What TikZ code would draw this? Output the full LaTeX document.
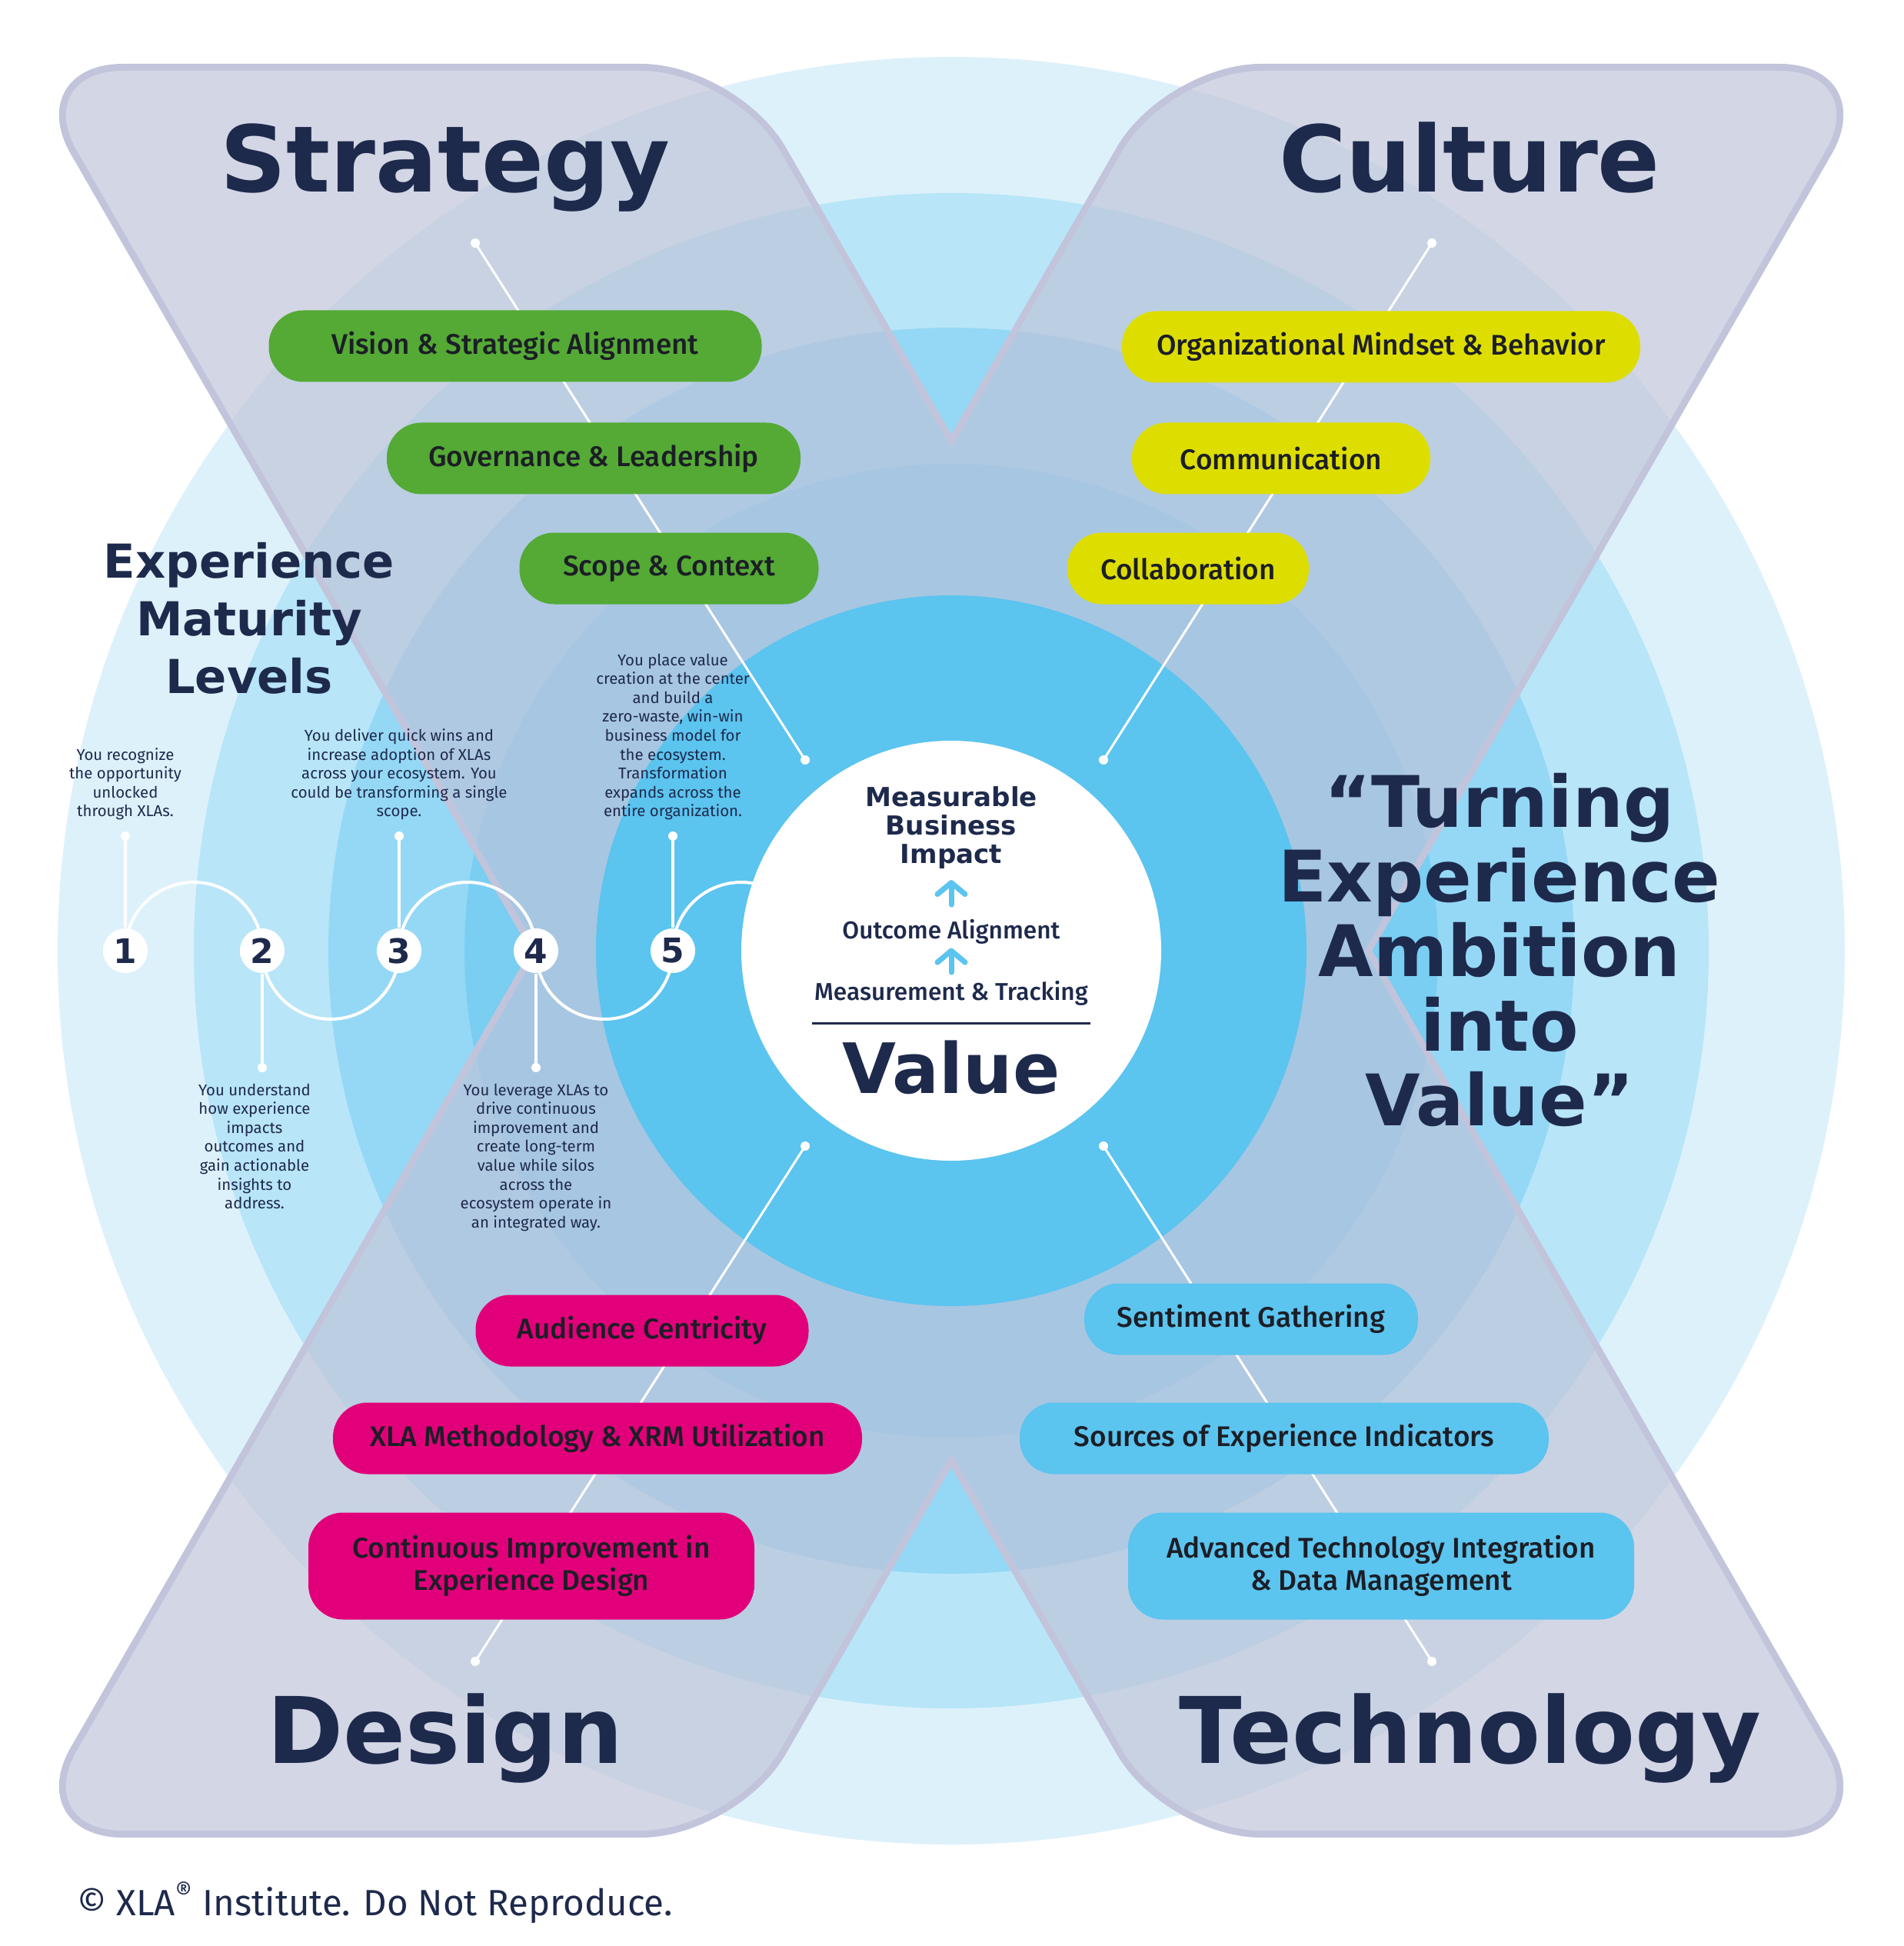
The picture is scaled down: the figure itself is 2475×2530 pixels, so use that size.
\documentclass[tikz,border=0pt]{standalone}
\usepackage{fontspec}
\setmainfont{Fira Sans}
\newfontfamily\heavyfont{DejaVu Sans}[UprightFont={* Bold}]
\IfFontExistsTF{Fira Sans Medium}
  {\newfontfamily\pillfont{Fira Sans Medium}}
  {\newfontfamily\pillfont{Fira Sans}}
\usetikzlibrary{positioning,arrows.meta}

\definecolor{navy}{RGB}{30,42,76}
\definecolor{ink}{RGB}{28,30,38}
\definecolor{ringA}{RGB}{221,241,251}
\definecolor{ringB}{RGB}{184,229,248}
\definecolor{ringC}{RGB}{149,216,245}
\definecolor{ringD}{RGB}{121,206,242}
\definecolor{ringE}{RGB}{91,196,239}
\definecolor{armbase}{RGB}{190,194,216}
\definecolor{armborder}{RGB}{193,196,219}
\definecolor{pillgreen}{RGB}{84,170,53}
\definecolor{pillyellow}{RGB}{221,222,0}
\definecolor{pillpink}{RGB}{226,0,122}
\colorlet{tintW}{armbase!67!white}
\colorlet{tintA}{armbase!67!ringA}
\colorlet{tintB}{armbase!67!ringB}
\colorlet{tintC}{armbase!67!ringC}
\colorlet{tintD}{armbase!67!ringD}

% les quatre bras du X
\newcommand{\armTL}{(40,92) -- (954,92) -- (1766,1500) -- (852,1500) -- cycle}
\newcommand{\armTR}{(1520,92) -- (2434,92) -- (1622,1500) -- (708,1500) -- cycle}
\newcommand{\armBL}{(852,972) -- (1766,972) -- (954,2380) -- (40,2380) -- cycle}
\newcommand{\armBR}{(708,972) -- (1622,972) -- (2434,2380) -- (1520,2380) -- cycle}

\tikzset{
  pill/.style={rounded corners=4.5mm, minimum height=9.3mm, inner xsep=0pt, inner ysep=0pt,
    align=center, text=ink, font=\pillfont\fontsize{10.5}{12}\selectfont},
  armtitle/.style={anchor=base, inner sep=0pt, text=navy, font=\heavyfont\fontsize{34}{34}\selectfont},
  link/.style={white, line width=0.3mm},
  stem/.style={white, line width=0.4mm},
  lvlnode/.style={circle, fill=white, inner sep=0pt, minimum size=5.8mm, text=navy,
    font=\heavyfont\fontsize{12.5}{12.5}\selectfont},
  desc/.style={align=center, inner sep=0pt, text=navy, font=\fontsize{5.8}{7}\selectfont},
  uparrow/.style={ringE, line width=0.7mm, line cap=round,
    -{Straight Barb[round, length=1.5mm, width=3.6mm]}}
}

\begin{document}
\begin{tikzpicture}[x=0.1mm, y=-0.1mm]
    \useasboundingbox (0,0) rectangle (2475,2530);
    \fill[white] (0,0) rectangle (2475,2530);
    \coordinate (c) at (1237,1236);

    % Anneaux de fond
    \fill[ringA] (c) circle (1162);
    \fill[ringB] (c) circle (985);
    \fill[ringC] (c) circle (810);
    \fill[ringD] (c) circle (633);

    % Le X : bordure puis teinte des bras
    \draw[armborder, line width=1.8mm, rounded corners=12mm] \armTL \armTR \armBL \armBR;
    \begin{scope}
        \clip[rounded corners=12mm] \armTL \armTR \armBL \armBR;
        \fill[tintW] (0,0) rectangle (2475,2530);
        \fill[tintA] (c) circle (1162);
        \fill[tintB] (c) circle (985);
        \fill[tintC] (c) circle (810);
        \fill[tintD] (c) circle (633);
    \end{scope}

    % Coeur bleu et disque blanc
    \fill[ringE] (c) circle (462);
    \fill[white] (c) circle (273);

    % Lignes qui traversent chaque bras
    \coordinate (s1) at (618,316);   \coordinate (s2) at (1047,988);
    \coordinate (k1) at (1862,316);  \coordinate (k2) at (1435,988);
    \coordinate (g1) at (1047,1490); \coordinate (g2) at (618,2160);
    \coordinate (t1) at (1435,1490); \coordinate (t2) at (1862,2160);
    \draw[link] (s1) -- (s2);
    \draw[link] (k1) -- (k2);
    \draw[link] (g1) -- (g2);
    \draw[link] (t1) -- (t2);
    \fill[white] (s1) circle (6) (s2) circle (6) (k1) circle (6) (k2) circle (6);
    \fill[white] (g1) circle (6) (g2) circle (6) (t1) circle (6) (t2) circle (6);

    % Strategy
    \node[pill, fill=pillgreen, minimum width=64.1mm] (vision) at (670,450) {Vision \& Strategic Alignment};
    \node[pill, fill=pillgreen, minimum width=53.8mm] (gov) at (772,596) {Governance \& Leadership};
    \node[pill, fill=pillgreen, minimum width=38.9mm] (scope) at (870,739) {Scope \& Context};

    % Culture
    \node[pill, fill=pillyellow, minimum width=67.4mm] (mindset) at (1796,451) {Organizational Mindset \& Behavior};
    \node[pill, fill=pillyellow, minimum width=38.8mm] (comm) at (1666,596) {Communication};
    \node[pill, fill=pillyellow, minimum width=31.4mm] (collab) at (1545,739) {Collaboration};

    % Design
    \node[pill, fill=pillpink, minimum width=43.3mm] (audience) at (835,1730) {Audience Centricity};
    \node[pill, fill=pillpink, minimum width=68.8mm] (xrm) at (777,1870) {XLA Methodology \& XRM Utilization};
    \node[pill, fill=pillpink, minimum width=58mm, minimum height=13.9mm] (improve) at (691,2036) {Continuous Improvement in\\Experience Design};

    % Technology
    \node[pill, fill=ringE, minimum width=43.4mm] (sentiment) at (1627,1715) {Sentiment Gathering};
    \node[pill, fill=ringE, minimum width=68.8mm] (sources) at (1670,1870) {Sources of Experience Indicators};
    \node[pill, fill=ringE, minimum width=65.8mm, minimum height=13.9mm] (advanced) at (1796,2036) {Advanced Technology Integration\\\& Data Management};

    % Titres des bras
    \node[armtitle] (strategy) at (579,250) {Strategy};
    \node[armtitle] (culture) at (1911,250) {Culture};
    \node[armtitle] (design) at (579,2292) {Design};
    \node[armtitle] (technology) at (1912,2292) {Technology};

    % Niveaux de maturite
    \coordinate (m1) at (163,1236);
    \coordinate (m2) at (341,1236);
    \coordinate (m3) at (519,1236);
    \coordinate (m4) at (697,1236);
    \coordinate (m5) at (875,1236);
    \draw[stem] (m1) arc[start angle=180, end angle=360, radius=89]
                     arc[start angle=180, end angle=0, radius=89]
                     arc[start angle=180, end angle=360, radius=89]
                     arc[start angle=180, end angle=0, radius=89]
                     arc[start angle=180, end angle=300, radius=89];
    \node[lvlnode] (lvl1) at (m1) {1};
    \node[lvlnode] (lvl2) at (m2) {2};
    \node[lvlnode] (lvl3) at (m3) {3};
    \node[lvlnode] (lvl4) at (m4) {4};
    \node[lvlnode] (lvl5) at (m5) {5};

    \coordinate (d1) at (163,1087);
    \coordinate (d2) at (341,1388);
    \coordinate (d3) at (519,1087);
    \coordinate (d4) at (697,1388);
    \coordinate (d5) at (875,1087);
    \draw[stem] (lvl1) -- (d1);
    \draw[stem] (lvl2) -- (d2);
    \draw[stem] (lvl3) -- (d3);
    \draw[stem] (lvl4) -- (d4);
    \draw[stem] (lvl5) -- (d5);
    \fill[white] (d1) circle (6) (d2) circle (6) (d3) circle (6) (d4) circle (6) (d5) circle (6);

    \node[desc, above=2mm of d1] (txt1) {You recognize\\the opportunity\\unlocked\\through XLAs.};
    \node[desc, below=2mm of d2, xshift=-1mm] (txt2) {You understand\\how experience\\impacts\\outcomes and\\gain actionable\\insights to\\address.};
    \node[desc, above=2mm of d3] (txt3) {You deliver quick wins and\\increase adoption of XLAs\\across your ecosystem. You\\could be transforming a single\\scope.};
    \node[desc, below=2mm of d4] (txt4) {You leverage XLAs to\\drive continuous\\improvement and\\create long-term\\value while silos\\across the\\ecosystem operate in\\an integrated way.};
    \node[desc, above=2mm of d5] (txt5) {You place value\\creation at the center\\and build a\\zero-waste, win-win\\business model for\\the ecosystem.\\Transformation\\expands across the\\entire organization.};

    \node[align=center, inner sep=0pt, text=navy, font=\heavyfont\fontsize{17.3}{21.3}\selectfont]
        (maturity) at (324,804) {Experience\\Maturity\\Levels};

    % Citation
    \node[align=center, inner sep=0pt, text=navy, font=\heavyfont\fontsize{26.3}{27.6}\selectfont]
        (quote) at (1950,1235) {“Turning\\Experience\\Ambition\\into\\Value”};

    % Centre : Value
    \node[align=center, inner sep=0pt, text=navy, font=\heavyfont\fontsize{9.7}{10.5}\selectfont]
        (impact) at (1237,1076) {Measurable\\Business\\Impact};
    \node[anchor=base, inner sep=0pt, text=navy, font=\pillfont\fontsize{9}{10}\selectfont]
        (outcome) at (1237,1220) {Outcome Alignment};
    \node[anchor=base, inner sep=0pt, text=navy, font=\pillfont\fontsize{9}{10}\selectfont]
        (tracking) at (1237,1300) {Measurement \& Tracking};
    \node[anchor=base, inner sep=0pt, text=navy, font=\heavyfont\fontsize{25.7}{26}\selectfont]
        (value) at (1237,1421) {Value};
    \draw[uparrow, shorten <=1.8mm, shorten >=1.4mm] (outcome.north) -- (impact.south);
    \draw[uparrow, shorten <=1.0mm, shorten >=0.5mm] (tracking.north) -- (outcome.south);
    \draw[navy, line width=0.3mm] (1056,1330) -- (1418,1330);

    % Mention
    \node[anchor=base west, inner sep=0pt, text=navy, font=\fontsize{13.5}{15}\selectfont]
        (copy) at (100,2490) {© XLA\textsuperscript{®} Institute. Do Not Reproduce.};

\end{tikzpicture}
\end{document}
